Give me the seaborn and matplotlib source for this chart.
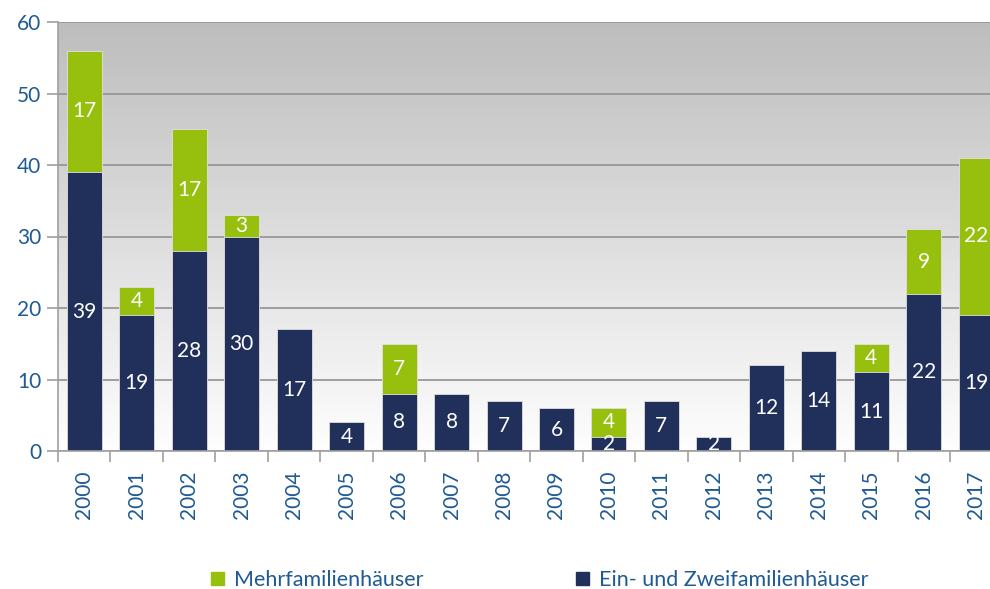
import numpy as np
import pandas as pd
import matplotlib
matplotlib.use("Agg")
import matplotlib.pyplot as plt
from matplotlib.patches import Patch
import seaborn as sns

# data
years = ["2000", "2001", "2002", "2003", "2004", "2005", "2006", "2007", "2008",
         "2009", "2010", "2011", "2012", "2013", "2014", "2015", "2016", "2017"]
ein_zwei = [39, 19, 28, 30, 17, 4, 8, 8, 7, 6, 2, 7, 2, 12, 14, 11, 22, 19]
mehr = [17, 4, 17, 3, 0, 0, 7, 0, 0, 0, 4, 0, 0, 0, 0, 4, 9, 22]
y_ticks = [0, 10, 20, 30, 40, 50, 60]

label_ein = "Ein- und Zweifamilienhäuser"
label_mehr = "Mehrfamilienhäuser"

navy = "#21305b"
green = "#97bf0d"
blue_text = "#1f5a93"
grey_line = "#a0a0a0"

df = pd.DataFrame({"year": years, "ein": ein_zwei, "mehr": mehr})
df["total"] = df["ein"] + df["mehr"]

sns.set_style("white")
plt.rcParams["font.family"] = ["Lato", "DejaVu Sans"]

fig = plt.figure(figsize=(9.9, 5.89), dpi=100)
ax = fig.add_axes([58 / 990, 1 - 451 / 589, 944.5 / 990, 429 / 589])

# grey-to-white gradient background
grad = np.linspace(1, 0, 256).reshape(-1, 1)
ax.imshow(grad, extent=[0, 1, 0, 1], transform=ax.transAxes, aspect="auto",
          cmap=matplotlib.colors.LinearSegmentedColormap.from_list(
              "bg", ["#fefefe", "#bdbdbd"]),
          zorder=0)

sns.barplot(data=df, x="year", y="total", color=green, width=0.667,
            saturation=1, ax=ax, zorder=3, edgecolor="#e0e0e0", linewidth=0.6)
sns.barplot(data=df, x="year", y="ein", color=navy, width=0.667,
            saturation=1, ax=ax, zorder=4, edgecolor="#e0e0e0", linewidth=0.6)

# value labels in the middle of each segment
for i, (e, m) in enumerate(zip(ein_zwei, mehr)):
    if e > 0:
        ax.text(i, e / 2, str(e), ha="center", va="center", color="white",
                fontsize=15, zorder=6)
    if m > 0:
        ax.text(i, e + m / 2, str(m), ha="center", va="center", color="white",
                fontsize=15, zorder=6)

ax.set_xlim(-0.5, len(years) - 0.5)
ax.set_ylim(0, 60)
ax.set_yticks(y_ticks)
ax.yaxis.grid(True, color="#989898", linewidth=1.3, zorder=1)
ax.set_axisbelow(True)

ax.set_xlabel("")
ax.set_ylabel("")
for s in ["top", "right"]:
    ax.spines[s].set_visible(False)
ax.spines["left"].set_color(grey_line)
ax.spines["bottom"].set_color(grey_line)
ax.spines["left"].set_linewidth(1.2)
ax.spines["bottom"].set_linewidth(1.2)
ax.spines["left"].set_zorder(5)
ax.spines["bottom"].set_zorder(5)

ax.tick_params(axis="y", colors=grey_line, labelcolor=blue_text, length=8,
               width=1.2, labelsize=15, pad=4, left=True)
ax.tick_params(axis="x", which="major", length=0, labelcolor=blue_text,
               labelsize=15, rotation=90, pad=14)
ax.set_xticks(np.arange(-0.5, len(years), 1), minor=True)
ax.tick_params(axis="x", which="minor", length=8, width=1.2, color=grey_line,
               bottom=True)

handles = [Patch(color=green, label=label_mehr), Patch(color=navy, label=label_ein)]
fig.legend(handles=handles, loc="center", bbox_to_anchor=(0.545, 0.015),
           ncol=2, frameon=False, fontsize=15.5, labelcolor=blue_text,
           handlelength=0.6, handleheight=0.6, handletextpad=0.45,
           columnspacing=7.1)

fig.savefig("out.png", dpi=100)
